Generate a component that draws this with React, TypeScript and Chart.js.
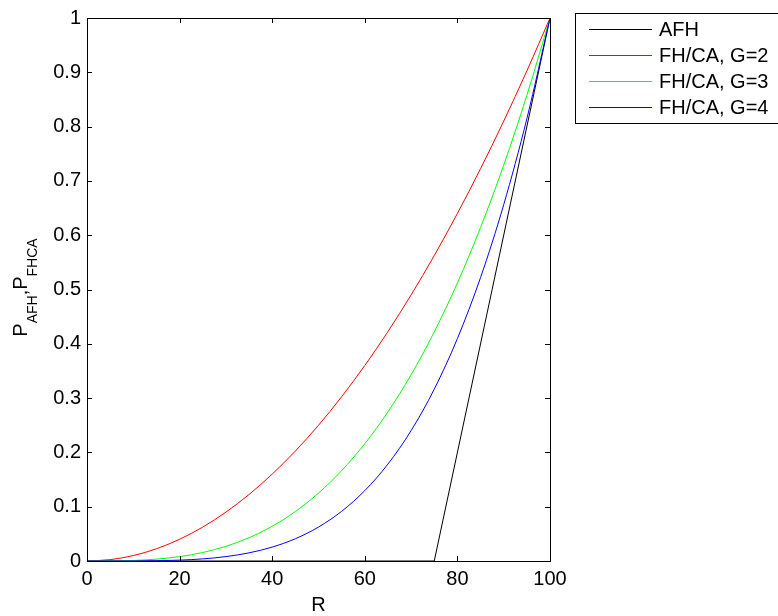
import React, { useEffect, useRef } from "react";
import { Chart, registerables } from "chart.js";
Chart.register(...registerables);

const rValues = [0, 5, 10, 15, 20, 25, 30, 35, 40, 45, 50, 55, 60, 65, 70, 75, 80, 85, 90, 95, 100];
const pG2 = [0, 0.0025, 0.01, 0.0225, 0.04, 0.0625, 0.09, 0.1225, 0.16, 0.2025, 0.25, 0.3025, 0.36, 0.4225, 0.49, 0.5625, 0.64, 0.7225, 0.81, 0.9025, 1];
const pG3 = [0, 0.0001, 0.001, 0.0034, 0.008, 0.0156, 0.027, 0.0429, 0.064, 0.0911, 0.125, 0.1664, 0.216, 0.2746, 0.343, 0.4219, 0.512, 0.6141, 0.729, 0.8574, 1];
const pG4 = [0, 0, 0.0001, 0.0005, 0.0016, 0.0039, 0.0081, 0.015, 0.0256, 0.041, 0.0625, 0.0915, 0.1296, 0.1785, 0.2401, 0.3164, 0.4096, 0.522, 0.6561, 0.8145, 1];
const afhR = [0, 75, 100];
const afhP = [0, 0, 1];

const xTickValues = [0, 20, 40, 60, 80, 100];
const xTickLabels = ["0", "20", "40", "60", "80", "100"];
const yTickValues = [0, 0.1, 0.2, 0.3, 0.4, 0.5, 0.6, 0.7, 0.8, 0.9, 1];
const yTickLabels = ["0", "0.1", "0.2", "0.3", "0.4", "0.5", "0.6", "0.7", "0.8", "0.9", "1"];

const seriesNames = ["AFH", "FH/CA, G=2", "FH/CA, G=3", "FH/CA, G=4"];
const seriesColors = ["#000000", "#ff0000", "#00ff00", "#0000ff"];

const xTitle = "R";
const FONT = "'Liberation Sans', Arial, sans-serif";
const FS = 20;

const decorPlugin = {
  id: "decor",
  afterDatasetsDraw(chart: any) {
    const ctx = chart.ctx;
    const { left, right, top, bottom } = chart.chartArea;
    const xs = chart.scales.x;
    const ys = chart.scales.y;
    ctx.save();
    ctx.strokeStyle = "#000";
    ctx.lineWidth = 1;
    ctx.strokeRect(Math.round(left) + 0.5, Math.round(top) + 0.5, Math.round(right - left), Math.round(bottom - top));
    const tl = 5;
    ctx.beginPath();
    xTickValues.forEach((v) => {
      const px = Math.round(xs.getPixelForValue(v)) + 0.5;
      ctx.moveTo(px, bottom);
      ctx.lineTo(px, bottom - tl);
      ctx.moveTo(px, top);
      ctx.lineTo(px, top + tl);
    });
    yTickValues.forEach((v) => {
      const py = Math.round(ys.getPixelForValue(v)) + 0.5;
      ctx.moveTo(left, py);
      ctx.lineTo(left + tl, py);
      ctx.moveTo(right, py);
      ctx.lineTo(right - tl, py);
    });
    ctx.stroke();

    ctx.fillStyle = "#000";
    ctx.font = `${FS}px ${FONT}`;
    ctx.textAlign = "center";
    ctx.textBaseline = "alphabetic";
    ctx.fillText(xTitle, (left + right) / 2, 611);

    const parts: [string, boolean][] = [["P", false], ["AFH", true], [",", false], ["P", false], ["FHCA", true]];
    const subFS = 14;
    let total = 0;
    const widths = parts.map(([t, sub]) => {
      ctx.font = `${sub ? subFS : FS}px ${FONT}`;
      const w = ctx.measureText(t).width;
      total += w;
      return w;
    });
    ctx.save();
    ctx.translate(27, (top + bottom) / 2 - 2);
    ctx.rotate(-Math.PI / 2);
    ctx.textAlign = "left";
    let u = -total / 2;
    parts.forEach(([t, sub], i) => {
      ctx.font = `${sub ? subFS : FS}px ${FONT}`;
      ctx.fillText(t, u, sub ? 10 : 0);
      u += widths[i];
    });
    ctx.restore();

    // legend
    ctx.fillStyle = "#fff";
    ctx.fillRect(576, 14, 210, 109);
    ctx.strokeStyle = "#000";
    ctx.strokeRect(575.5, 13.5, 220, 110);
    ctx.font = `${FS}px ${FONT}`;
    ctx.textAlign = "left";
    ctx.textBaseline = "middle";
    seriesNames.forEach((name, i) => {
      const y = 29 + 26 * i;
      ctx.fillStyle = seriesColors[i];
      ctx.fillRect(589, y, 63, 1);
      ctx.fillStyle = "#000";
      ctx.fillText(name, 659, y + 1.5);
    });
    ctx.restore();
  },
};

export default function App() {
  const ref = useRef<HTMLCanvasElement | null>(null);
  useEffect(() => {
    document.body.style.margin = "0";
    const ctx = ref.current!;
    const mk = (xs: number[], ys: number[]) => xs.map((x, i) => ({ x, y: ys[i] }));
    const chart = new Chart(ctx, {
      type: "line",
      data: {
        datasets: [
          { label: seriesNames[0], data: mk(afhR, afhP), borderColor: seriesColors[0], borderWidth: 1, pointRadius: 0, tension: 0, order: 4 },
          { label: seriesNames[1], data: mk(rValues, pG2), borderColor: seriesColors[1], borderWidth: 1, pointRadius: 0, cubicInterpolationMode: "monotone", order: 3 },
          { label: seriesNames[2], data: mk(rValues, pG3), borderColor: seriesColors[2], borderWidth: 1, pointRadius: 0, cubicInterpolationMode: "monotone", order: 2 },
          { label: seriesNames[3], data: mk(rValues, pG4), borderColor: seriesColors[3], borderWidth: 1, pointRadius: 0, cubicInterpolationMode: "monotone", order: 1 },
        ],
      },
      options: {
        animation: false,
        responsive: true,
        maintainAspectRatio: false,
        layout: { padding: { left: 0, right: 228, top: 13, bottom: 0 } },
        plugins: { legend: { display: false }, tooltip: { enabled: false } },
        scales: {
          x: {
            type: "linear",
            min: 0,
            max: 100,
            afterBuildTicks: (s: any) => { s.ticks = xTickValues.map((v) => ({ value: v })); },
            afterFit: (s: any) => { s.height = 55; },
            grid: { display: false, drawTicks: false },
            border: { display: false },
            ticks: { color: "#000", font: { family: FONT, size: FS }, padding: 6, maxRotation: 0, autoSkip: false, callback: (_v: any, i: number) => xTickLabels[i] },
          },
          y: {
            type: "linear",
            min: 0,
            max: 1,
            afterBuildTicks: (s: any) => { s.ticks = yTickValues.map((v) => ({ value: v })); },
            afterFit: (s: any) => { s.width = 87; },
            grid: { display: false, drawTicks: false },
            border: { display: false },
            ticks: { color: "#000", font: { family: FONT, size: FS }, padding: 6, autoSkip: false, callback: (_v: any, i: number) => yTickLabels[i] },
          },
        },
      },
      plugins: [decorPlugin],
    } as any);
    return () => chart.destroy();
  }, []);
  return (
    <div style={{ position: "fixed", left: 0, top: 0, width: 778, height: 616, background: "#fff" }}>
      <canvas ref={ref} />
    </div>
  );
}
